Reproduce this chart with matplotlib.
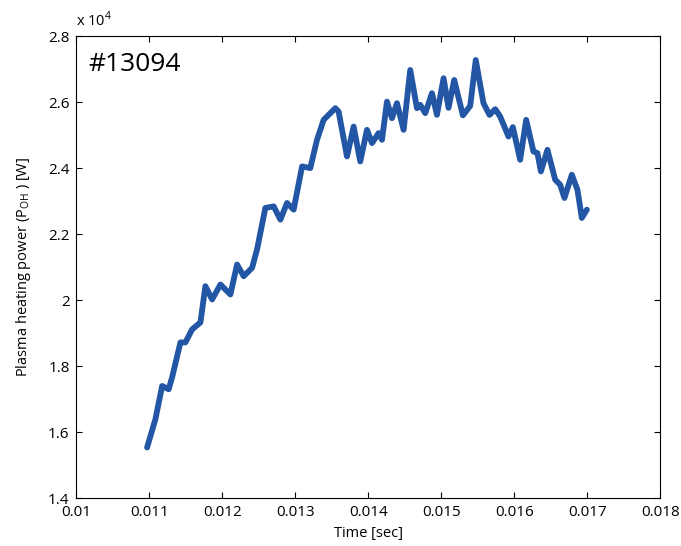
import numpy as np
import matplotlib
matplotlib.use('Agg')
import matplotlib.pyplot as plt
from matplotlib.ticker import FuncFormatter

# Time [s] and ohmic heating power [W]
time_s = [0.010968, 0.011082, 0.011174, 0.011264, 0.011311, 0.011425, 0.011493,
          0.011585, 0.011699, 0.011767, 0.011859, 0.011973, 0.012110, 0.012201,
          0.012292, 0.012407, 0.012475, 0.012589, 0.012703, 0.012795, 0.012886,
          0.012977, 0.013092, 0.013205, 0.013297, 0.013388, 0.013548, 0.013593,
          0.013708, 0.013799, 0.013890, 0.013982, 0.014051, 0.014141, 0.014188,
          0.014256, 0.014325, 0.014393, 0.014484, 0.014575, 0.014667, 0.014712,
          0.014781, 0.014873, 0.014941, 0.015032, 0.015100, 0.015178, 0.015297,
          0.015397, 0.015473, 0.015579, 0.015662, 0.015740, 0.015808, 0.015922,
          0.015982, 0.016082, 0.016164, 0.016264, 0.016319, 0.016366, 0.016456,
          0.016562, 0.016630, 0.016689, 0.016790, 0.016867, 0.016927, 0.016996]
power_w = [15532, 16388, 17395, 17295, 17658, 18716, 18716,
           19109, 19321, 20419, 20017, 20470, 20168, 21075,
           20721, 20975, 21529, 22790, 22838, 22436, 22941,
           22738, 24048, 23999, 24855, 25460, 25814, 25711,
           24350, 25257, 24199, 25157, 24755, 25058, 24855,
           26013, 25511, 25965, 25157, 26972, 25814, 25913,
           25662, 26267, 25611, 26721, 25823, 26669, 25596,
           25883, 27274, 25965, 25611, 25783, 25560, 24955,
           25239, 24250, 25460, 24501, 24453, 23896, 24553,
           23645, 23494, 23092, 23797, 23343, 22487, 22738]

shot_label = '#13094'

plt.rcParams['font.family'] = ['Open Sans', 'DejaVu Sans']

fig = plt.figure(figsize=(6.81, 5.46), dpi=100)
ax = fig.add_axes([0.1123, 0.0879, 0.857, 0.8461])

ax.plot(time_s, np.array(power_w) / 1e4, color='#2357a6', linewidth=4.2,
        solid_capstyle='round', solid_joinstyle='round')

ax.set_xlim(0.01, 0.018)
ax.set_ylim(1.4, 2.8)
ax.set_xticks(np.arange(0.01, 0.0181, 0.001))
ax.set_yticks(np.arange(1.4, 2.81, 0.2))
fmt = FuncFormatter(lambda v, p: '%g' % round(v, 4))
ax.xaxis.set_major_formatter(fmt)
ax.yaxis.set_major_formatter(fmt)
ax.tick_params(direction='in', top=True, right=True, labelsize=11, length=4)
ax.tick_params(axis='x', pad=5)
ax.tick_params(axis='y', pad=5)

ax.set_xlabel('Time [sec]', fontsize=10.5, labelpad=4)
ax.set_ylabel('Plasma heating power (P$_{\\mathregular{OH}}$ ) [W]', fontsize=10.5, labelpad=11)

ax.text(0.0, 1.012, 'x 10$^{\\mathregular{4}}$', transform=ax.transAxes,
        fontsize=10.5, ha='left', va='bottom')
ax.text(0.02, 0.965, shot_label, transform=ax.transAxes,
        fontsize=19, ha='left', va='top')

plt.savefig('out.png', dpi=100)
